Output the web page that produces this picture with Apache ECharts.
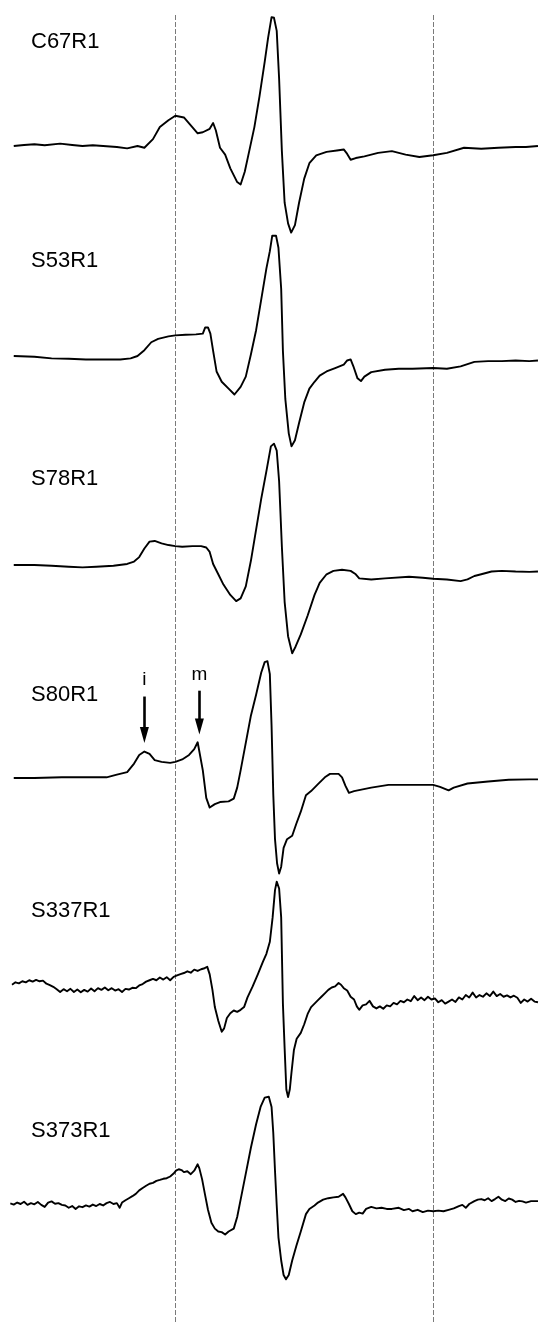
<!DOCTYPE html>
<html>
<head>
<meta charset="utf-8">
<script src="https://cdn.jsdelivr.net/npm/echarts@6/dist/echarts.min.js"></script>
<style>html,body{margin:0;padding:0;background:#fff;}#chart{width:539px;height:1322px;}</style>
</head>
<body>
<div id="chart"></div>
<script>
// ---- data (field in arbitrary units, amplitude in arbitrary units) ----
const sampleNames = ['C67R1', 'S53R1', 'S78R1', 'S80R1', 'S337R1', 'S373R1'];
const fieldRange = [0, 1568];
const referenceFields = [511, 1261];

const C67R1 = [[40,0],[70,3],[100,5],[130,2],[175,7],[210,3],[240,0],[270,2],[300,0],[340,-3],[370,-7],[400,0],[420,-5],[445,20],[465,55],[490,75],[510,88],[535,83],[555,60],[575,37],[590,40],[610,50],[620,67],[628,45],[640,-5],[655,-25],[670,-65],[690,-105],[700,-112],[712,-75],[725,-15],[740,55],[755,145],[770,245],[780,315],[790,375],[797,373],[805,335],[812,195],[820,-15],[828,-165],[838,-225],[847,-252],[858,-230],[870,-165],[885,-95],[900,-50],[920,-27],[950,-17],[980,-13],[1000,-10],[1010,-23],[1020,-40],[1035,-35],[1060,-30],[1100,-20],[1140,-15],[1180,-25],[1220,-32],[1260,-27],[1300,-20],[1350,-5],[1400,-8],[1450,-5],[1500,-3],[1530,-3],[1565,0]];

const S53R1 = [[40,0],[100,-2],[150,-7],[200,-8],[250,-10],[300,-10],[350,-10],[380,-7],[400,0],[420,17],[440,40],[460,50],[490,57],[510,60],[540,62],[570,63],[590,65],[597,83],[605,83],[612,65],[620,15],[630,-45],[645,-75],[665,-95],[682,-112],[700,-90],[715,-60],[730,5],[745,75],[760,165],[775,255],[785,305],[792,350],[803,350],[810,315],[818,195],[823,15],[830,-125],[840,-225],[848,-263],[858,-245],[870,-195],[885,-135],[900,-95],[915,-75],[930,-57],[950,-45],[975,-35],[1000,-25],[1010,-13],[1020,-10],[1028,-30],[1040,-65],[1050,-73],[1060,-60],[1080,-47],[1120,-40],[1160,-37],[1200,-37],[1260,-35],[1300,-37],[1340,-30],[1380,-17],[1420,-15],[1460,-15],[1500,-13],[1540,-15],[1565,-13]];

const S78R1 = [[40,0],[100,0],[150,-2],[200,-5],[240,-7],[280,-5],[330,-2],[370,3],[390,10],[405,23],[420,48],[435,68],[450,70],[470,63],[490,58],[510,55],[530,53],[560,55],[585,55],[600,51],[610,38],[620,3],[635,-27],[650,-57],[670,-87],[687,-105],[700,-97],[715,-62],[730,13],[745,103],[760,193],[775,273],[788,345],[797,353],[805,333],[812,243],[820,53],[828,-107],[838,-207],[850,-257],[860,-237],[875,-202],[895,-147],[915,-87],[930,-52],[950,-27],[970,-17],[995,-14],[1020,-17],[1035,-27],[1045,-39],[1080,-42],[1120,-39],[1190,-34],[1230,-37],[1260,-40],[1300,-42],[1340,-47],[1360,-42],[1380,-32],[1400,-27],[1430,-19],[1460,-17],[1500,-19],[1540,-20],[1565,-19]];

const S80R1 = [[40,0],[100,0],[180,2],[260,2],[310,2],[340,10],[370,17],[390,42],[405,67],[420,77],[435,70],[450,52],[470,47],[495,44],[510,47],[530,54],[550,67],[565,84],[575,104],[580,102],[590,22],[600,-58],[610,-86],[625,-76],[640,-70],[665,-68],[680,-60],[690,-28],[700,22],[715,102],[730,182],[745,242],[760,307],[770,337],[778,340],[785,302],[790,152],[795,-48],[800,-178],[806,-248],[812,-278],[818,-258],[825,-203],[835,-178],[850,-168],[862,-133],[875,-98],[890,-50],[905,-38],[925,-18],[945,2],[960,12],[985,12],[995,2],[1005,-23],[1015,-43],[1030,-38],[1080,-28],[1130,-20],[1200,-20],[1260,-20],[1280,-26],[1305,-36],[1320,-28],[1360,-16],[1420,-10],[1480,-5],[1540,-4],[1565,-4]];

const S337R1 = [[35,-5],[45,2],[55,-1],[65,5],[75,2],[85,8],[95,4],[105,9],[115,5],[125,7],[135,-2],[145,-6],[155,-11],[165,-18],[175,-26],[185,-18],[195,-24],[205,-17],[215,-26],[225,-19],[235,-27],[245,-20],[255,-25],[265,-16],[275,-24],[285,-15],[295,-20],[305,-13],[315,-21],[325,-15],[335,-22],[345,-18],[355,-26],[365,-17],[375,-19],[385,-14],[395,-15],[405,-7],[415,-3],[425,4],[435,8],[445,12],[455,8],[465,16],[475,10],[485,17],[495,8],[505,18],[515,22],[525,26],[535,29],[545,34],[555,30],[565,39],[575,35],[585,40],[595,43],[603,47],[610,25],[618,-20],[625,-70],[635,-110],[645,-142],[652,-132],[660,-102],[670,-88],[680,-80],[690,-84],[700,-78],[710,-70],[720,-42],[735,-10],[750,25],[765,62],[775,85],[785,120],[793,190],[800,270],[805,295],[812,275],[818,190],[823,-60],[828,-190],[833,-310],[838,-332],[843,-310],[848,-260],[855,-195],[863,-162],[875,-145],[885,-120],[895,-90],[905,-70],[915,-60],[925,-50],[935,-40],[945,-30],[955,-20],[965,-13],[975,-10],[985,0],[992,-5],[1000,-15],[1010,-22],[1020,-40],[1030,-48],[1038,-68],[1045,-78],[1055,-65],[1065,-62],[1075,-52],[1085,-68],[1095,-74],[1105,-68],[1115,-75],[1125,-65],[1135,-68],[1145,-58],[1155,-62],[1165,-52],[1175,-56],[1185,-48],[1195,-53],[1205,-38],[1215,-50],[1225,-42],[1235,-50],[1245,-40],[1255,-48],[1265,-45],[1275,-56],[1285,-50],[1295,-60],[1305,-54],[1315,-48],[1325,-55],[1335,-42],[1345,-48],[1355,-35],[1365,-42],[1375,-28],[1385,-42],[1395,-35],[1405,-40],[1415,-30],[1425,-38],[1435,-25],[1445,-38],[1455,-32],[1465,-40],[1475,-36],[1485,-42],[1495,-37],[1505,-43],[1515,-58],[1525,-48],[1535,-54],[1545,-46],[1555,-54],[1565,-56]];

const S373R1 = [[30,2],[40,-2],[50,5],[60,0],[70,8],[80,-3],[90,3],[100,-1],[110,7],[120,-3],[130,-10],[140,5],[150,9],[160,1],[170,3],[180,-3],[190,-5],[200,-13],[210,-7],[220,-17],[230,-8],[240,-11],[250,-5],[260,-9],[270,-2],[280,-7],[290,0],[300,-5],[310,3],[320,7],[330,0],[340,3],[348,-13],[355,5],[365,13],[375,20],[385,27],[395,35],[405,47],[415,55],[425,63],[435,70],[445,73],[455,80],[465,83],[475,87],[485,89],[495,95],[505,105],[512,115],[520,120],[528,117],[535,110],[545,113],[555,103],[565,115],[575,137],[580,123],[588,85],[596,35],[605,-20],[615,-65],[625,-85],[635,-95],[645,-97],[655,-105],[665,-95],[680,-85],[690,-45],[700,15],[715,105],[730,195],[745,275],[758,335],[770,367],[782,370],[790,335],[795,245],[800,115],[805,-5],[810,-115],[818,-195],[825,-245],[832,-260],[840,-245],[850,-195],[862,-145],[875,-95],[890,-35],[900,-17],[915,-5],[925,5],[940,15],[955,20],[970,23],[985,25],[998,35],[1005,23],[1015,0],[1025,-25],[1035,-35],[1045,-30],[1055,-33],[1065,-17],[1080,-10],[1095,-15],[1110,-13],[1125,-17],[1140,-17],[1160,-13],[1175,-21],[1190,-17],[1200,-25],[1215,-20],[1230,-28],[1245,-23],[1260,-25],[1275,-23],[1290,-25],[1305,-20],[1320,-15],[1335,-7],[1345,-3],[1355,-13],[1365,0],[1380,10],[1390,15],[1400,17],[1410,13],[1420,20],[1430,10],[1440,17],[1450,25],[1460,15],[1470,10],[1480,19],[1490,15],[1500,7],[1510,11],[1520,9],[1530,5],[1545,10],[1565,10]];

const spectra = [C67R1, S53R1, S78R1, S80R1, S337R1, S373R1];

// annotation marks on S80R1 spectrum
const annotLabels = ['i', 'm'];
const annotFields = [420, 580];
const annotStart = [237, 254];
const annotEnd = [125, 150];
const annotLabelAmp = [286, 299];

// ---- layout ----
const W = 539;
const unitsPerPx = (fieldRange[1] - fieldRange[0]) / W;
const baselinePx = [146, 356, 565, 778, 983, 1226];
const labelTops = [31, 250, 468, 684, 900, 1120];
const halfPx = 140;
const font = 'Liberation Sans, Arial, Helvetica, sans-serif';

const grids = [], xAxes = [], yAxes = [], series = [], titles = [];
spectra.forEach((d, i) => {
  grids.push({ left: 0, right: 0, top: baselinePx[i] - halfPx, height: 2 * halfPx, containLabel: false });
  xAxes.push({ type: 'value', gridIndex: i, min: fieldRange[0], max: fieldRange[1], show: false });
  yAxes.push({ type: 'value', gridIndex: i, min: -halfPx * unitsPerPx, max: halfPx * unitsPerPx, show: false });
  const s = {
    type: 'line', name: sampleNames[i], xAxisIndex: i, yAxisIndex: i, data: d,
    showSymbol: false, symbol: 'none', silent: true, animation: false,
    lineStyle: { color: '#000', width: 1.9, join: 'round' }, z: 5
  };
  if (i === 3) {
    s.markLine = {
      silent: true, animation: false,
      symbol: ['none', 'triangle'], symbolSize: [9, 16],
      lineStyle: { color: '#000', width: 2.6, type: 'solid' },
      label: { show: false },
      data: annotLabels.map((l, k) => [{ coord: [annotFields[k], annotStart[k]] }, { coord: [annotFields[k], annotEnd[k]] }])
    };
    s.markPoint = {
      silent: true, animation: false, symbol: 'circle', symbolSize: 1,
      itemStyle: { color: 'rgba(0,0,0,0)' },
      label: { show: true, position: 'inside', formatter: '{b}', color: '#000', fontSize: 19, fontFamily: font },
      data: annotLabels.map((l, k) => ({ name: l, coord: [annotFields[k], annotLabelAmp[k]] }))
    };
  }
  series.push(s);
  titles.push({ text: sampleNames[i], left: 31, top: labelTops[i], padding: 0,
    textStyle: { fontSize: 22, fontWeight: 'normal', color: '#000', fontFamily: font } });
});

// overlay grid for dashed reference lines
const gi = spectra.length;
grids.push({ left: 0, right: 0, top: 14, bottom: 0 });
xAxes.push({ type: 'value', gridIndex: gi, min: fieldRange[0], max: fieldRange[1], show: false });
yAxes.push({ type: 'value', gridIndex: gi, min: 0, max: 1, show: false });
series.push({
  type: 'line', xAxisIndex: gi, yAxisIndex: gi, data: [], silent: true, z: 1,
  markLine: {
    silent: true, animation: false, symbol: ['none', 'none'], label: { show: false },
    lineStyle: { color: '#7a7a7a', width: 1, type: [5, 2] },
    data: referenceFields.map(f => ({ xAxis: f }))
  }
});

const chart = echarts.init(document.getElementById('chart'), null, { renderer: 'canvas' });
chart.setOption({
  backgroundColor: '#fff',
  animation: false,
  title: titles,
  grid: grids,
  xAxis: xAxes,
  yAxis: yAxes,
  series: series
});
</script>
</body>
</html>
